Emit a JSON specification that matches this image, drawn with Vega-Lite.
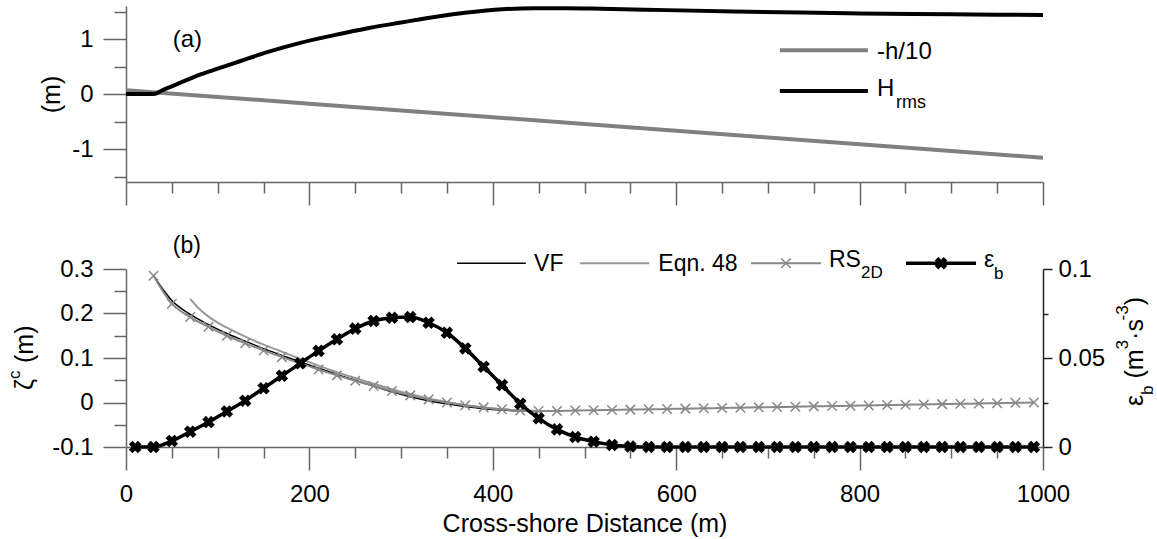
{
  "$schema": "https://vega.github.io/schema/vega-lite/v6.json",
  "autosize": {"type": "pad"},
  "padding": {"left": 5, "top": 0, "right": 5, "bottom": 5},
  "background": "white",
  "bounds": "flush",
  "spacing": 87,
  "config": {
    "view": {"stroke": null},
    "axis": {
      "grid": false,
      "domainColor": "#666666",
      "tickColor": "#666666",
      "domainWidth": 1.5,
      "tickWidth": 1.5,
      "labelFont": "Liberation Sans",
      "labelFontSize": 24,
      "labelColor": "black",
      "titleFont": "Liberation Sans",
      "titleFontSize": 25,
      "titleFontWeight": "normal",
      "titleColor": "black",
      "labelFlush": false,
      "labelOverlap": false
    },
    "text": {"font": "Liberation Sans", "color": "black"}
  },
  "datasets": {
    "depth": [
      {"x": 0, "y": 0.07}, {"x": 100, "y": -0.053}, {"x": 200, "y": -0.176}, {"x": 300, "y": -0.299},
      {"x": 400, "y": -0.422}, {"x": 500, "y": -0.545}, {"x": 600, "y": -0.668}, {"x": 700, "y": -0.791},
      {"x": 800, "y": -0.914}, {"x": 900, "y": -1.037}, {"x": 1000, "y": -1.16}
    ],
    "hrms": [
      {"x": 0, "y": 0}, {"x": 30, "y": 0}, {"x": 40, "y": 0.07}, {"x": 50, "y": 0.14}, {"x": 60, "y": 0.21},
      {"x": 70, "y": 0.28}, {"x": 82, "y": 0.36}, {"x": 100, "y": 0.46}, {"x": 125, "y": 0.6},
      {"x": 154, "y": 0.76}, {"x": 190, "y": 0.93}, {"x": 227, "y": 1.07}, {"x": 265, "y": 1.2},
      {"x": 300, "y": 1.3}, {"x": 340, "y": 1.41}, {"x": 372, "y": 1.48}, {"x": 410, "y": 1.54},
      {"x": 445, "y": 1.56}, {"x": 480, "y": 1.56}, {"x": 518, "y": 1.55}, {"x": 590, "y": 1.525},
      {"x": 663, "y": 1.5}, {"x": 736, "y": 1.48}, {"x": 800, "y": 1.465}, {"x": 900, "y": 1.45},
      {"x": 1000, "y": 1.435}
    ],
    "legTop": [
      {"series": "-h/10", "x": 713, "x2": 809, "y": 0.795},
      {"series": "Hrms", "x": 713, "x2": 809, "y": 0.0545}
    ],
    "txtTop": [
      {"label": "(a)", "x": 51, "y": 0.855},
      {"label": "-h/10", "x": 819, "y": 0.631},
      {"label": "H", "x": 819, "y": -0.036}
    ],
    "txtTopSub": [
      {"label": "rms", "x": 839.7, "y": -0.249}
    ],
    "vf": [
      {"x": 30, "y": 0.285}, {"x": 40, "y": 0.255}, {"x": 50, "y": 0.229}, {"x": 70, "y": 0.198},
      {"x": 90, "y": 0.175}, {"x": 110, "y": 0.155}, {"x": 130, "y": 0.138}, {"x": 150, "y": 0.121},
      {"x": 170, "y": 0.106}, {"x": 190, "y": 0.091}, {"x": 210, "y": 0.077}, {"x": 230, "y": 0.063},
      {"x": 250, "y": 0.05}, {"x": 270, "y": 0.037}, {"x": 290, "y": 0.024}, {"x": 310, "y": 0.013},
      {"x": 330, "y": 0.004}, {"x": 350, "y": -0.003}, {"x": 370, "y": -0.009}, {"x": 390, "y": -0.014},
      {"x": 410, "y": -0.017}, {"x": 430, "y": -0.019}, {"x": 450, "y": -0.02}
    ],
    "eqn": [
      {"x": 70, "y": 0.233}, {"x": 80, "y": 0.21}, {"x": 90, "y": 0.193}, {"x": 110, "y": 0.168},
      {"x": 130, "y": 0.148}, {"x": 150, "y": 0.13}, {"x": 170, "y": 0.114}, {"x": 190, "y": 0.098},
      {"x": 210, "y": 0.083}, {"x": 230, "y": 0.068}, {"x": 250, "y": 0.055}, {"x": 270, "y": 0.042},
      {"x": 290, "y": 0.03}, {"x": 310, "y": 0.019}, {"x": 330, "y": 0.009}, {"x": 350, "y": 0.001},
      {"x": 370, "y": -0.006}, {"x": 390, "y": -0.011}, {"x": 410, "y": -0.015}, {"x": 430, "y": -0.018},
      {"x": 450, "y": -0.019}
    ],
    "rs": [
      {"x": 30, "y": 0.285}, {"x": 50, "y": 0.222}, {"x": 70, "y": 0.192}, {"x": 90, "y": 0.17},
      {"x": 110, "y": 0.15}, {"x": 130, "y": 0.133}, {"x": 150, "y": 0.117}, {"x": 170, "y": 0.102},
      {"x": 190, "y": 0.088}, {"x": 210, "y": 0.074}, {"x": 230, "y": 0.061}, {"x": 250, "y": 0.049},
      {"x": 270, "y": 0.037}, {"x": 290, "y": 0.026}, {"x": 310, "y": 0.016}, {"x": 330, "y": 0.007},
      {"x": 350, "y": 0.0}, {"x": 370, "y": -0.006}, {"x": 390, "y": -0.011}, {"x": 410, "y": -0.015},
      {"x": 430, "y": -0.018}, {"x": 450, "y": -0.019}, {"x": 470, "y": -0.019}, {"x": 490, "y": -0.018},
      {"x": 510, "y": -0.0175}, {"x": 530, "y": -0.0168}, {"x": 550, "y": -0.016}, {"x": 570, "y": -0.0153},
      {"x": 590, "y": -0.0146}, {"x": 610, "y": -0.0138}, {"x": 630, "y": -0.0131}, {"x": 650, "y": -0.0124},
      {"x": 670, "y": -0.0117}, {"x": 690, "y": -0.0109}, {"x": 710, "y": -0.0102}, {"x": 730, "y": -0.0095},
      {"x": 750, "y": -0.0087}, {"x": 770, "y": -0.008}, {"x": 790, "y": -0.0073}, {"x": 810, "y": -0.0066},
      {"x": 830, "y": -0.0058}, {"x": 850, "y": -0.0051}, {"x": 870, "y": -0.0044}, {"x": 890, "y": -0.0036},
      {"x": 910, "y": -0.0029}, {"x": 930, "y": -0.0022}, {"x": 950, "y": -0.0015}, {"x": 970, "y": -0.0007},
      {"x": 990, "y": 0.0}
    ],
    "eb": [
      {"x": 10, "y": 0}, {"x": 30, "y": 0}, {"x": 50, "y": 0.0034}, {"x": 70, "y": 0.0086},
      {"x": 90, "y": 0.014}, {"x": 110, "y": 0.02}, {"x": 130, "y": 0.026}, {"x": 150, "y": 0.033},
      {"x": 170, "y": 0.04}, {"x": 190, "y": 0.047}, {"x": 210, "y": 0.054}, {"x": 230, "y": 0.0605},
      {"x": 250, "y": 0.0665}, {"x": 270, "y": 0.0708}, {"x": 290, "y": 0.0726}, {"x": 310, "y": 0.073},
      {"x": 330, "y": 0.0698}, {"x": 350, "y": 0.0642}, {"x": 370, "y": 0.0554}, {"x": 390, "y": 0.0451},
      {"x": 410, "y": 0.0348}, {"x": 430, "y": 0.0243}, {"x": 450, "y": 0.0161}, {"x": 470, "y": 0.0099},
      {"x": 490, "y": 0.0056}, {"x": 510, "y": 0.003}, {"x": 530, "y": 0.0011}, {"x": 550, "y": 0.0003},
      {"x": 570, "y": 0}, {"x": 590, "y": 0}, {"x": 610, "y": 0}, {"x": 630, "y": 0}, {"x": 650, "y": 0},
      {"x": 670, "y": 0}, {"x": 690, "y": 0}, {"x": 710, "y": 0}, {"x": 730, "y": 0}, {"x": 750, "y": 0},
      {"x": 770, "y": 0}, {"x": 790, "y": 0}, {"x": 810, "y": 0}, {"x": 830, "y": 0}, {"x": 850, "y": 0},
      {"x": 870, "y": 0}, {"x": 890, "y": 0}, {"x": 910, "y": 0}, {"x": 930, "y": 0}, {"x": 950, "y": 0},
      {"x": 970, "y": 0}, {"x": 990, "y": 0}
    ],
    "legB": [
      {"series": "VF", "x": 361, "x2": 436, "y": 0.313},
      {"series": "Eqn. 48", "x": 495, "x2": 570.6, "y": 0.313},
      {"series": "RS2D", "x": 681.6, "x2": 758, "y": 0.313},
      {"series": "eb", "x": 850.6, "x2": 927, "y": 0.313}
    ],
    "legBm": [
      {"series": "RS2D", "x": 719.7, "y": 0.313},
      {"series": "eb", "x": 888.8, "y": 0.313}
    ],
    "txtB": [
      {"label": "(b)", "x": 51, "y": 0.3366},
      {"label": "VF", "x": 445, "y": 0.2955},
      {"label": "Eqn. 48", "x": 580.5, "y": 0.2955},
      {"label": "RS", "x": 766.6, "y": 0.3035},
      {"label": "ε", "x": 935.7, "y": 0.3035}
    ],
    "txtBsub": [
      {"label": "2D", "x": 801.5, "y": 0.2791},
      {"label": "b", "x": 946.6, "y": 0.2768}
    ],
    "rotMain": [
      {"label": "ζ", "x": -101.7, "y": 0.0281},
      {"label": "(m)", "x": -101.7, "y": 0.0888},
      {"label": "ε", "x": 1109, "y": -0.0078},
      {"label": "(m", "x": 1109, "y": 0.054},
      {"label": "·s", "x": 1109, "y": 0.1407},
      {"label": ")", "x": 1109, "y": 0.2184}
    ],
    "rotSmall": [
      {"label": "c", "x": -116, "y": 0.0528},
      {"label": "b", "x": 1120.5, "y": 0.0169},
      {"label": "3", "x": 1092.7, "y": 0.1193},
      {"label": "-3", "x": 1092.7, "y": 0.1845}
    ]
  },
  "vconcat": [
    {
      "width": 917,
      "height": 176,
      "layer": [
        {
          "data": {"name": "depth"},
          "mark": {"type": "line", "color": "#808080", "strokeWidth": 4},
          "encoding": {
            "x": {"field": "x", "type": "quantitative",
              "scale": {"domain": [0, 1000], "nice": false, "zero": false},
              "axis": {"orient": "bottom", "values": [0, 200, 400, 600, 800, 1000], "tickSize": 23, "labels": false, "title": null}},
            "y": {"field": "y", "type": "quantitative",
              "scale": {"domain": [-1.6, 1.6], "nice": false, "zero": false},
              "axis": {"orient": "left", "values": [-1, 0, 1], "tickSize": 23, "labelPadding": 10, "labelExpr": "toString(datum.value)", "title": "(m)", "titlePadding": 7}}
          }
        },
        {
          "data": {"name": "hrms"},
          "mark": {"type": "line", "color": "black", "strokeWidth": 4, "interpolate": "monotone"},
          "encoding": {
            "x": {"field": "x", "type": "quantitative",
              "axis": {"orient": "bottom", "values": [50, 100, 150, 250, 300, 350, 450, 500, 550, 650, 700, 750, 850, 900, 950], "tickSize": 11, "labels": false, "domain": false, "title": null}},
            "y": {"field": "y", "type": "quantitative",
              "axis": {"orient": "left", "values": [-1.5, -0.5, 0.5, 1.5], "tickSize": 12, "labels": false, "domain": false, "title": null}}
          }
        },
        {
          "data": {"name": "legTop"},
          "transform": [{"filter": "datum.series === '-h/10'"}],
          "mark": {"type": "rule", "color": "#808080", "strokeWidth": 4},
          "encoding": {
            "x": {"field": "x", "type": "quantitative", "axis": null},
            "x2": {"field": "x2"},
            "y": {"field": "y", "type": "quantitative", "axis": null}
          }
        },
        {
          "data": {"name": "legTop"},
          "transform": [{"filter": "datum.series === 'Hrms'"}],
          "mark": {"type": "rule", "color": "black", "strokeWidth": 4},
          "encoding": {
            "x": {"field": "x", "type": "quantitative", "axis": null},
            "x2": {"field": "x2"},
            "y": {"field": "y", "type": "quantitative", "axis": null}
          }
        },
        {
          "data": {"name": "txtTop"},
          "mark": {"type": "text", "fontSize": 24, "align": "left", "baseline": "alphabetic"},
          "encoding": {
            "x": {"field": "x", "type": "quantitative", "axis": null},
            "y": {"field": "y", "type": "quantitative", "axis": null},
            "text": {"field": "label"}
          }
        },
        {
          "data": {"name": "txtTopSub"},
          "mark": {"type": "text", "fontSize": 18, "align": "left", "baseline": "alphabetic"},
          "encoding": {
            "x": {"field": "x", "type": "quantitative", "axis": null},
            "y": {"field": "y", "type": "quantitative", "axis": null},
            "text": {"field": "label"}
          }
        }
      ],
      "resolve": {"axis": {"x": "independent", "y": "independent"}}
    },
    {
      "width": 917,
      "height": 178,
      "layer": [
        {
          "layer": [
            {
              "data": {"name": "vf"},
              "mark": {"type": "line", "color": "black", "strokeWidth": 1.5, "interpolate": "monotone"},
              "encoding": {
                "x": {"field": "x", "type": "quantitative",
                  "scale": {"domain": [0, 1000], "nice": false, "zero": false},
                  "axis": {"orient": "bottom", "values": [0, 200, 400, 600, 800, 1000], "tickSize": 23, "labelPadding": 12, "labelExpr": "toString(datum.value)", "title": "Cross-shore Distance (m)", "titlePadding": 5}},
                "y": {"field": "y", "type": "quantitative",
                  "scale": {"domain": [-0.1, 0.3], "nice": false, "zero": false},
                  "axis": {"orient": "left", "values": [-0.1, 0, 0.1, 0.2, 0.3], "tickSize": 23, "labelPadding": 10, "labelExpr": "toString(datum.value)", "title": null}}
              }
            },
            {
              "data": {"name": "eqn"},
              "mark": {"type": "line", "color": "#999999", "strokeWidth": 2, "interpolate": "monotone"},
              "encoding": {
                "x": {"field": "x", "type": "quantitative",
                  "axis": {"orient": "bottom", "values": [50, 100, 150, 250, 300, 350, 450, 500, 550, 650, 700, 750, 850, 900, 950], "tickSize": 11, "labels": false, "domain": false, "title": null}},
                "y": {"field": "y", "type": "quantitative",
                  "axis": {"orient": "left", "values": [-0.05, 0.05, 0.15, 0.25], "tickSize": 12, "labels": false, "domain": false, "title": null}}
              }
            },
            {
              "data": {"name": "rs"},
              "mark": {"type": "line", "color": "#888888", "strokeWidth": 2, "interpolate": "monotone"},
              "encoding": {
                "x": {"field": "x", "type": "quantitative", "axis": null},
                "y": {"field": "y", "type": "quantitative", "axis": null}
              }
            },
            {
              "data": {"name": "rs"},
              "mark": {"type": "point", "shape": "M-1,-1L1,1M-1,1L1,-1", "filled": false, "stroke": "#888888", "strokeWidth": 1.5, "size": 90, "opacity": 1},
              "encoding": {
                "x": {"field": "x", "type": "quantitative", "axis": null},
                "y": {"field": "y", "type": "quantitative", "axis": null}
              }
            },
            {
              "data": {"name": "legB"},
              "transform": [{"filter": "datum.series === 'VF'"}],
              "mark": {"type": "rule", "color": "black", "strokeWidth": 1.5},
              "encoding": {
                "x": {"field": "x", "type": "quantitative", "axis": null},
                "x2": {"field": "x2"},
                "y": {"field": "y", "type": "quantitative", "axis": null}
              }
            },
            {
              "data": {"name": "legB"},
              "transform": [{"filter": "datum.series === 'Eqn. 48'"}],
              "mark": {"type": "rule", "color": "#999999", "strokeWidth": 2},
              "encoding": {
                "x": {"field": "x", "type": "quantitative", "axis": null},
                "x2": {"field": "x2"},
                "y": {"field": "y", "type": "quantitative", "axis": null}
              }
            },
            {
              "data": {"name": "legB"},
              "transform": [{"filter": "datum.series === 'RS2D'"}],
              "mark": {"type": "rule", "color": "#888888", "strokeWidth": 2},
              "encoding": {
                "x": {"field": "x", "type": "quantitative", "axis": null},
                "x2": {"field": "x2"},
                "y": {"field": "y", "type": "quantitative", "axis": null}
              }
            },
            {
              "data": {"name": "legB"},
              "transform": [{"filter": "datum.series === 'eb'"}],
              "mark": {"type": "rule", "color": "black", "strokeWidth": 3.5},
              "encoding": {
                "x": {"field": "x", "type": "quantitative", "axis": null},
                "x2": {"field": "x2"},
                "y": {"field": "y", "type": "quantitative", "axis": null}
              }
            },
            {
              "data": {"name": "legBm"},
              "transform": [{"filter": "datum.series === 'RS2D'"}],
              "mark": {"type": "point", "shape": "M-1,-1L1,1M-1,1L1,-1", "filled": false, "stroke": "#888888", "strokeWidth": 1.5, "size": 90, "opacity": 1},
              "encoding": {
                "x": {"field": "x", "type": "quantitative", "axis": null},
                "y": {"field": "y", "type": "quantitative", "axis": null}
              }
            },
            {
              "data": {"name": "legBm"},
              "transform": [{"filter": "datum.series === 'eb'"}],
              "mark": {"type": "point", "shape": "cross", "angle": 45, "filled": true, "color": "black", "size": 160, "opacity": 1},
              "encoding": {
                "x": {"field": "x", "type": "quantitative", "axis": null},
                "y": {"field": "y", "type": "quantitative", "axis": null}
              }
            },
            {
              "data": {"name": "txtB"},
              "mark": {"type": "text", "fontSize": 23, "align": "left", "baseline": "alphabetic"},
              "encoding": {
                "x": {"field": "x", "type": "quantitative", "axis": null},
                "y": {"field": "y", "type": "quantitative", "axis": null},
                "text": {"field": "label"}
              }
            },
            {
              "data": {"name": "txtBsub"},
              "mark": {"type": "text", "fontSize": 17, "align": "left", "baseline": "alphabetic"},
              "encoding": {
                "x": {"field": "x", "type": "quantitative", "axis": null},
                "y": {"field": "y", "type": "quantitative", "axis": null},
                "text": {"field": "label"}
              }
            },
            {
              "data": {"name": "rotMain"},
              "mark": {"type": "text", "fontSize": 25, "align": "left", "baseline": "alphabetic", "angle": 270},
              "encoding": {
                "x": {"field": "x", "type": "quantitative", "axis": null},
                "y": {"field": "y", "type": "quantitative", "axis": null},
                "text": {"field": "label"}
              }
            },
            {
              "data": {"name": "rotSmall"},
              "mark": {"type": "text", "fontSize": 17, "align": "left", "baseline": "alphabetic", "angle": 270},
              "encoding": {
                "x": {"field": "x", "type": "quantitative", "axis": null},
                "y": {"field": "y", "type": "quantitative", "axis": null},
                "text": {"field": "label"}
              }
            }
          ],
          "resolve": {"axis": {"x": "independent", "y": "independent"}}
        },
        {
          "layer": [
            {
              "data": {"name": "eb"},
              "mark": {"type": "line", "color": "black", "strokeWidth": 3.5, "interpolate": "monotone"},
              "encoding": {
                "x": {"field": "x", "type": "quantitative", "axis": null},
                "y": {"field": "y", "type": "quantitative",
                  "scale": {"domain": [0, 0.1], "nice": false, "zero": false},
                  "axis": {"orient": "right", "values": [0, 0.05, 0.1], "tickSize": 9, "labelPadding": 6, "labelExpr": "toString(datum.value)", "title": null, "domainColor": "#222222", "tickColor": "#222222"}}
              }
            },
            {
              "data": {"name": "eb"},
              "mark": {"type": "point", "shape": "cross", "angle": 45, "filled": true, "color": "black", "size": 160, "opacity": 1},
              "encoding": {
                "x": {"field": "x", "type": "quantitative", "axis": null},
                "y": {"field": "y", "type": "quantitative",
                  "axis": {"orient": "right", "values": [0.025, 0.075], "tickSize": 5, "labels": false, "domain": false, "title": null, "tickColor": "#222222"}}
              }
            }
          ],
          "resolve": {"axis": {"y": "independent"}}
        }
      ],
      "resolve": {"scale": {"y": "independent"}, "axis": {"x": "independent", "y": "independent"}}
    }
  ]
}
